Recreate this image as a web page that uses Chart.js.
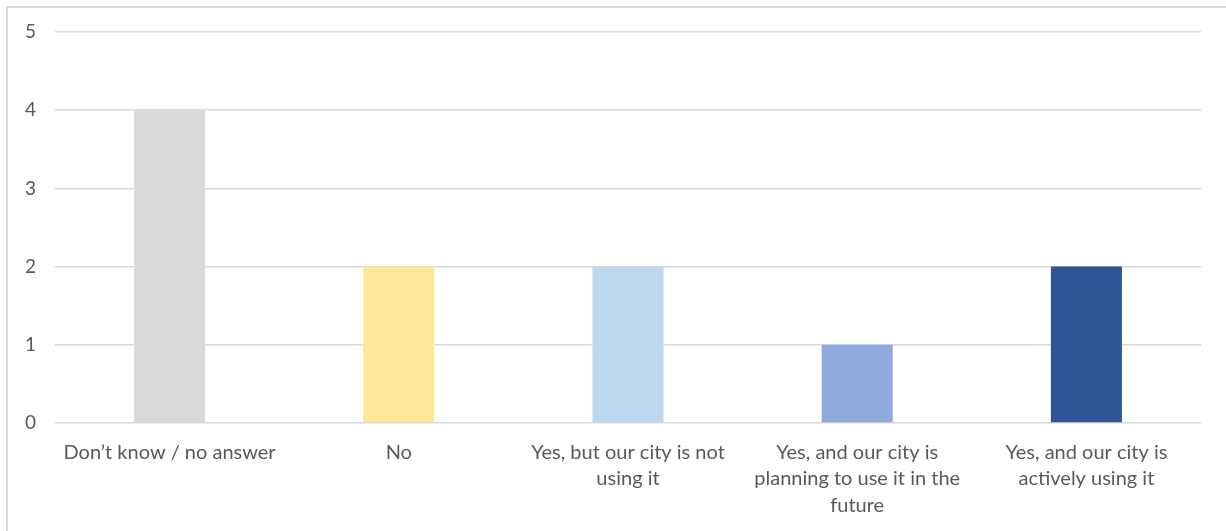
<!DOCTYPE html>
<html>
<head>
<meta charset="utf-8">
<script src="https://cdn.jsdelivr.net/npm/chart.js@4/dist/chart.umd.min.js"></script>
<style>
  html, body { margin: 0; padding: 0; background: #fff; }
  #frame {
    position: absolute; left: 6px; top: 6px; width: 1230px; height: 540px;
    border-left: 2px solid #d9d9d9; border-top: 2px solid #d9d9d9;
  }
  #wrap { position: absolute; left: 0; top: 0; width: 1226px; height: 531px; }
</style>
</head>
<body>
<div id="frame"></div>
<div id="wrap"><canvas id="chart"></canvas></div>
<script>
const categories = [
    "Don\u2019t know / no answer",
    "No",
    ["Yes, but our city is not", "using it"],
    ["Yes, and our city is", "planning to use it in the", "future"],
    ["Yes, and our city is", "actively using it"]
];
const counts = [4, 2, 2, 1, 2];
const barColors = ['#d9d9d9', '#ffe699', '#bdd7ee', '#8faadc', '#2f5597'];
const yTicks = [0, 1, 2, 3, 4, 5];

const ctx = document.getElementById('chart').getContext('2d');
new Chart(ctx, {
    type: 'bar',
    data: {
        labels: categories,
        datasets: [{
            data: counts,
            backgroundColor: barColors,
            borderWidth: 0,
            categoryPercentage: 1,
            barPercentage: 0.31
        }]
    },
    options: {
        responsive: true,
        maintainAspectRatio: false,
        animation: false,
        layout: { padding: { top: 32, right: 25, left: 0, bottom: 0 } },
        plugins: { legend: { display: false }, tooltip: { enabled: false } },
        scales: {
            x: {
                grid: { display: false },
                border: { display: false },
                ticks: {
                    color: '#595959',
                    font: { family: 'Lato', size: 20, lineHeight: 1.33 },
                    maxRotation: 0,
                    autoSkip: false,
                    padding: 8
                },
                afterFit: (scale) => { scale.height = 108; }
            },
            y: {
                min: 0,
                max: 5,
                afterBuildTicks: (scale) => { scale.ticks = yTicks.map(v => ({ value: v })); },
                grid: { color: '#d9d9d9', lineWidth: 1.5, drawTicks: false },
                border: { display: false },
                ticks: {
                    color: '#595959',
                    font: { family: 'Lato', size: 19 },
                    padding: 19
                },
                afterFit: (scale) => { scale.width = 55; }
            }
        }
    }
});
</script>
</body>
</html>
